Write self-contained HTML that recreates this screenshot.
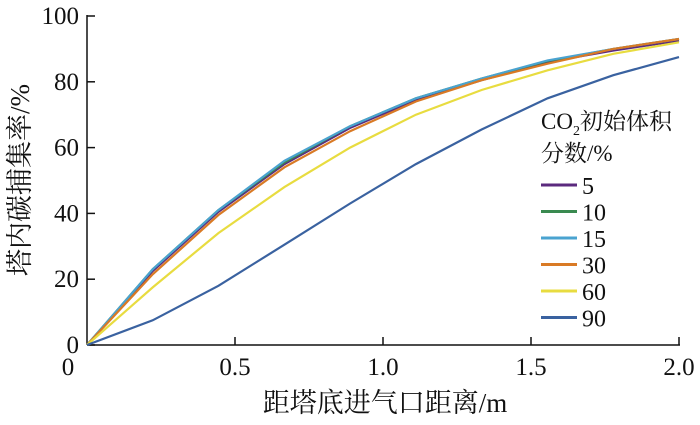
<!DOCTYPE html>
<html><head><meta charset="utf-8"><style>
body{margin:0;background:#fff;}
svg text{font-family:"Liberation Serif","Noto Serif CJK SC",serif;fill:#111;}
</style></head><body>
<svg id="chart" width="700" height="420" xmlns="http://www.w3.org/2000/svg"></svg>
<script>
const xs=[0,0.222,0.444,0.667,0.889,1.111,1.333,1.556,1.778,2.0];
const s5=[0,22.5,40.5,55,66,74.5,80.5,86,89.5,92.5];
const s10=[0,23,41,55.5,66.5,75,81,86.3,90,93];
const s15=[0,23,41,56,66.5,75,81,86.5,90,93];
const s30=[0,21.5,39.5,54,65,74,80.5,85.5,90,93];
const s60=[0,17.5,34,48,60,70,77.5,83.5,88.5,92];
const s90=[0,7.5,18,30.5,43,55,65.5,75,82,87.5];
const seriesNames=["5","10","15","30","60","90"];
const xTicks=["0","0.5","1.0","1.5","2.0"];
const xTickVals=[0,0.5,1,1.5,2];
const yTicks=[0,20,40,60,80,100];
const colors=["#5b2a7e","#3a8a50","#4aa3d0","#d97a25","#e8dc40","#3a62a0"];
const all=[s5,s10,s15,s30,s60,s90];
const X=v=>87+v*296, Y=v=>345-v*3.29;
const svg=document.getElementById('chart');const NS="http://www.w3.org/2000/svg";
function mk(t,a,txt){const e=document.createElementNS(NS,t);for(const k in a)e.setAttribute(k,a[k]);if(txt!==undefined)e.textContent=txt;svg.appendChild(e);return e;}
let e=mk('line',{x1:87,y1:345,x2:680,y2:345,stroke:'#111','stroke-width':1.5});

e=mk('line',{x1:87,y1:345,x2:87,y2:15,stroke:'#111','stroke-width':1.5});

yTicks.forEach(v=>{let t=mk('line',{x1:87,x2:95,y1:Y(v),y2:Y(v),stroke:'#111','stroke-width':1.5});

let l=mk('text',{x:79,y:Y(v)+8,'text-anchor':'end','font-size':25},String(v));
});
xTickVals.forEach((v,i)=>{if(i>0){let t=mk('line',{x1:X(v),x2:X(v),y1:345,y2:337,stroke:'#111','stroke-width':1.5});
}
let l=mk('text',{x:i==0?68:X(v),y:375,'text-anchor':'middle','font-size':25},xTicks[i]);
});
all.forEach((s,i)=>{const d=s.map((v,j)=>(j?'L':'M')+X(xs[j]).toFixed(1)+' '+Y(v).toFixed(1)).join(' ');
let p=mk('path',{d:d,fill:'none',stroke:colors[i],'stroke-width':2.2});

let ll=mk('line',{x1:541,x2:577,y1:185+i*26.5,y2:185+i*26.5,stroke:colors[i],'stroke-width':3});

let lt=mk('text',{x:582,y:194+i*26.5,'font-size':24},seriesNames[i]);
});
e=mk('text',{x:541,y:129,'font-size':23});e.innerHTML='CO<tspan font-size="14" dy="6">2</tspan><tspan dy="-6">初始体积</tspan>';

e=mk('text',{x:541,y:161,'font-size':23},'分数/%');

e=mk('text',{x:385,y:412,'text-anchor':'middle','font-size':27},'距塔底进气口距离/m');

e=mk('text',{x:0,y:0,'text-anchor':'middle','font-size':27,transform:'translate(29,180) rotate(-90)'},'塔内碳捕集率/%');

</script>
</body></html>
